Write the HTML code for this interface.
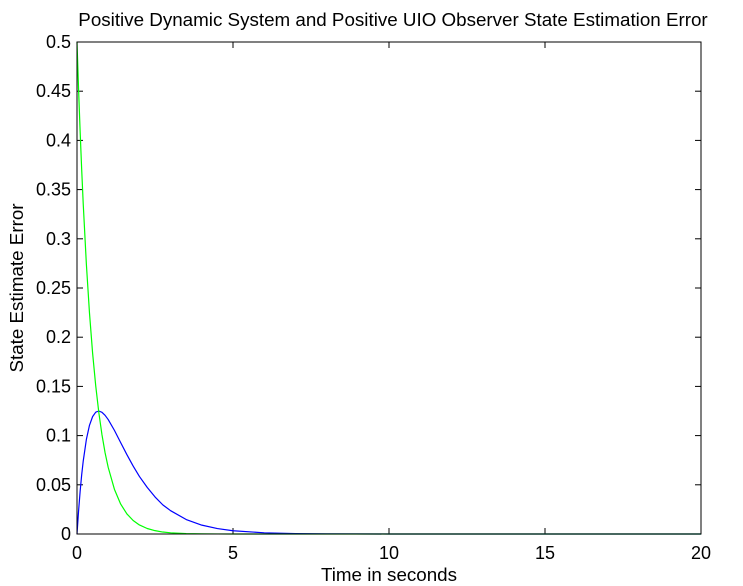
<!DOCTYPE html>
<html><head><meta charset="utf-8"><style>
body{margin:0;background:#fff;}
svg{display:block;font-family:"Liberation Sans",sans-serif;}
</style></head><body>
<svg id="chart" width="743" height="586">
<rect width="743" height="586" fill="#fff"/>
<text x="393" y="26" font-size="18.8" text-anchor="middle">Positive Dynamic System and Positive UIO Observer State Estimation Error</text>
<text x="389" y="581" font-size="18.8" text-anchor="middle">Time in seconds</text>
<text transform="translate(23,288) rotate(-90)" font-size="18.8" text-anchor="middle">State Estimate Error</text>
<g id="ticks"></g>
<g id="series"></g>
<rect x="77" y="42" width="624" height="492" fill="none" stroke="#000" stroke-width="1"/>
</svg>
<script>
const times=[0,0.05,0.1,0.15,0.2,0.3,0.4,0.5,0.6,0.7,0.8,0.9,1.0,1.2,1.4,1.6,1.8,2.0,2.25,2.5,2.75,3,3.5,4,4.5,5,6,7,8,10,12,15,20];
const blueValues=[0,0.0232,0.0431,0.0601,0.0742,0.0960,0.1105,0.1193,0.1238,0.1250,0.1237,0.1206,0.1163,0.1053,0.0929,0.0806,0.0690,0.0585,0.0474,0.0377,0.0296,0.0237,0.0147,0.0090,0.0055,0.0033,0.0012,0.00046,0.00017,0.00002,0,0,0];
const greenValues=[0.5,0.4524,0.4094,0.3704,0.3352,0.2744,0.2247,0.1839,0.1506,0.1233,0.1009,0.0826,0.0677,0.0454,0.0304,0.0204,0.0137,0.0092,0.0056,0.0034,0.0020,0.0012,0.00045,0.00017,0.00006,0.00002,0,0,0,0,0,0,0];
const xTicks=[0,5,10,15,20];
const yTicks=[0,0.05,0.1,0.15,0.2,0.25,0.3,0.35,0.4,0.45,0.5];
const yTickLabels=["0","0.05","0.1","0.15","0.2","0.25","0.3","0.35","0.4","0.45","0.5"];
const L=77,R=701,T=42,B=534;
const xs=v=>L+(v/20)*(R-L);
const ys=v=>B-(v/0.5)*(B-T);
const NS="http://www.w3.org/2000/svg";
const tg=document.getElementById('ticks');
function mk(tag,attrs,parent){const e=document.createElementNS(NS,tag);for(const k in attrs)e.setAttribute(k,attrs[k]);parent.appendChild(e);return e;}
xTicks.forEach(v=>{
  const x=xs(v);
  const t1=mk('line',{x1:x,x2:x,y1:B,y2:B-6,stroke:'#000'},tg);
  
  
  mk('line',{x1:x,x2:x,y1:T,y2:T+6,stroke:'#000'},tg);
  const l=mk('text',{x:x,y:B+25,'font-size':18,'text-anchor':'middle'},tg);
  l.textContent=String(v);
  
  
});
yTicks.forEach((v,i)=>{
  const y=ys(v);
  const t1=mk('line',{x1:L,x2:L+6,y1:y,y2:y,stroke:'#000'},tg);
  
  
  mk('line',{x1:R,x2:R-6,y1:y,y2:y,stroke:'#000'},tg);
  const l=mk('text',{x:L-6,y:y+6,'font-size':18,'text-anchor':'end'},tg);
  l.textContent=yTickLabels[i];
  
  
});
const sg=document.getElementById('series');
function line(vals,color,name){
  const d=times.map((t,i)=>(i?'L':'M')+xs(t).toFixed(2)+','+ys(vals[i]).toFixed(2)).join(' ');
  const p=mk('path',{d:d,fill:'none',stroke:color,'stroke-width':1.2,'stroke-linejoin':'round'},sg);
  
  
}
line(blueValues,'#0000ff','blue-error-line');
line(greenValues,'#00ff00','green-error-line');
</script>
</body></html>
